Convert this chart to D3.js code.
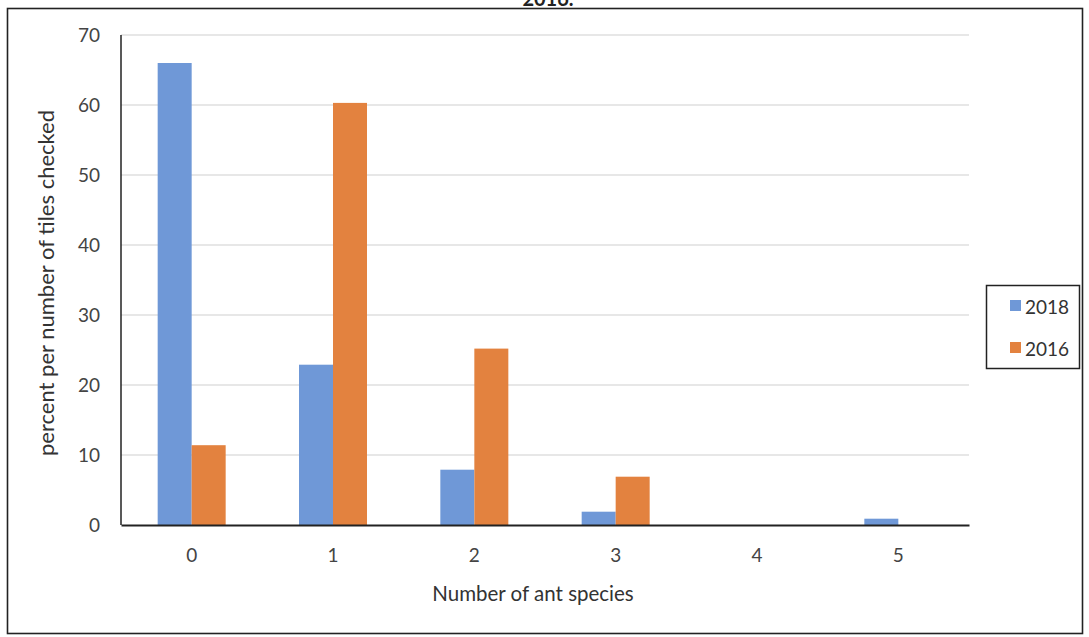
<!DOCTYPE html>
<html>
<head>
<meta charset="utf-8">
<script src="https://cdn.jsdelivr.net/npm/d3@7"></script>
<style>
  html, body { margin: 0; padding: 0; background: #fff; }
  svg { display: block; }
  text { font-family: "Lato", "Open Sans", "DejaVu Sans", sans-serif; fill: #333; }
</style>
</head>
<body>
<svg id="chart" width="1089" height="637"></svg>
<script>
// Ant species counts per checked tile
const categories = ["0", "1", "2", "3", "4", "5"];
const seriesNames = ["2018", "2016"];
const values2018 = [66, 22.9, 7.9, 1.9, 0, 0.9];
const values2016 = [11.4, 60.3, 25.2, 6.9, 0, 0];
const yTicks = [0, 10, 20, 30, 40, 50, 60, 70];
const seriesColors = ["#6f98d7", "#e3823f"];

const svg = d3.select("#chart");
const plot = { left: 121, right: 969, top: 35, bottom: 525 };

// Outer frame
svg.append("rect")
  .attr("x", 7.5).attr("y", 8.5)
  .attr("width", 1075).attr("height", 625)
  .attr("fill", "none").attr("stroke", "#222").attr("stroke-width", 1.6);

// Title line running off the top of the frame
svg.append("text")
  .attr("x", 548).attr("y", 6)
  .attr("text-anchor", "middle")
  .attr("font-size", 20).attr("font-weight", "bold")
  .style("fill", "#222")
  .text("2016.");

const x0 = d3.scaleBand().domain(categories).range([plot.left, plot.right]).padding(0);
const bw = x0.bandwidth();
const barW = 34;
const x1 = d3.scaleBand().domain(seriesNames)
  .range([bw / 2 - barW, bw / 2 + barW]).padding(0);
const y = d3.scaleLinear().domain([0, 70]).range([plot.bottom, plot.top]);

// Horizontal gridlines
svg.append("g").selectAll("line")
  .data(yTicks.filter(d => d > 0))
  .join("line")
  .attr("x1", plot.left).attr("x2", plot.right)
  .attr("y1", d => y(d)).attr("y2", d => y(d))
  .attr("stroke", "#cfcfcf").attr("stroke-width", 1);

// Y tick labels
const yAxis = d3.axisLeft(y).tickValues(yTicks).tickSize(0).tickPadding(21);
const gy = svg.append("g").attr("transform", `translate(${plot.left},0)`).call(yAxis);
gy.attr("font-size", null).attr("font-family", null);
gy.select(".domain").remove();
gy.selectAll("text").style("font-size", "19px").style("fill", "#444");

// Bars
const rows = categories.map((c, i) => ({ cat: c, vals: [values2018[i], values2016[i]] }));
const groups = svg.append("g").selectAll("g")
  .data(rows).join("g")
  .attr("transform", d => `translate(${x0(d.cat)},0)`);
groups.selectAll("rect")
  .data(d => d.vals.map((v, k) => ({ name: seriesNames[k], v, k })))
  .join("rect")
  .attr("x", d => x1(d.name))
  .attr("width", x1.bandwidth())
  .attr("y", d => y(d.v))
  .attr("height", d => y(0) - y(d.v))
  .attr("fill", d => seriesColors[d.k]);

// Axis lines
svg.append("line")
  .attr("x1", plot.left).attr("x2", plot.left)
  .attr("y1", plot.top).attr("y2", plot.bottom)
  .attr("stroke", "#222").attr("stroke-width", 1.5);

const xAxis = d3.axisBottom(x0).tickSize(0).tickPadding(24);
const gx = svg.append("g").attr("transform", `translate(0,${plot.bottom})`).call(xAxis);
gx.attr("font-size", null).attr("font-family", null);
gx.select(".domain").attr("stroke", "#222").attr("stroke-width", 2);
gx.selectAll("text").style("font-size", "19px").style("fill", "#444");

// Axis titles
svg.append("text")
  .attr("x", 533).attr("y", 601)
  .attr("text-anchor", "middle")
  .style("font-size", "20.5px")
  .text("Number of ant species");

svg.append("text")
  .attr("transform", "translate(54,283) rotate(-90)")
  .attr("text-anchor", "middle")
  .style("font-size", "22px")
  .text("percent per number of tiles checked");

// Legend
const lg = svg.append("g");
lg.append("rect")
  .attr("x", 986.5).attr("y", 285.5)
  .attr("width", 93).attr("height", 83)
  .attr("fill", "#fff").attr("stroke", "#222").attr("stroke-width", 1.5);
const items = lg.selectAll("g.item")
  .data(seriesNames).join("g")
  .attr("class", "item")
  .attr("transform", (d, i) => `translate(1010,${306 + i * 42})`);
items.append("rect")
  .attr("x", 0).attr("y", -6)
  .attr("width", 11).attr("height", 11)
  .attr("fill", (d, i) => seriesColors[i]);
items.append("text")
  .attr("x", 15).attr("y", 0)
  .attr("dominant-baseline", "central")
  .style("font-size", "19px")
  .text(d => d);
</script>
</body>
</html>
